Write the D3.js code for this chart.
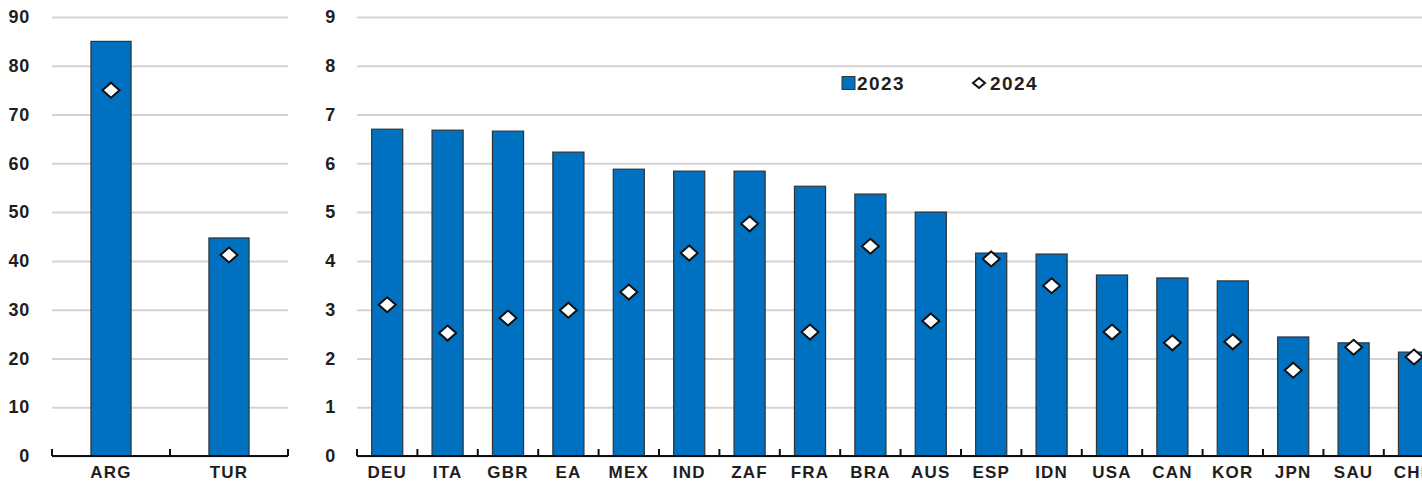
<!DOCTYPE html>
<html>
<head>
<meta charset="utf-8">
<script src="https://cdn.jsdelivr.net/npm/d3@7"></script>
<style>
  body { margin: 0; background: #fff; }
  svg { display: block; font-family: "Liberation Sans", Arial, sans-serif; }
  .tick text, .lbl { font-weight: bold; font-size: 18px; fill: #1e1e1e; letter-spacing: 0.8px; }
  .xl { font-size: 17px; letter-spacing: 1.2px; }
  .leg { font-size: 19px; letter-spacing: 1.4px; }
</style>
</head>
<body>
<svg id="chart" width="1422" height="482"></svg>
<script>
// left panel (high inflation)
let leftCats = ['ARG', 'TUR'];
let left2023 = [85.0, 44.7];
let left2024 = [75.0, 41.2];
let leftTicks = [0, 10, 20, 30, 40, 50, 60, 70, 80, 90];

// right panel
let rightCats = ['DEU', 'ITA', 'GBR', 'EA', 'MEX', 'IND', 'ZAF', 'FRA', 'BRA',
  'AUS', 'ESP', 'IDN', 'USA', 'CAN', 'KOR', 'JPN', 'SAU', 'CHN'];
let right2023 = [6.70, 6.68, 6.66, 6.23, 5.88, 5.84, 5.84, 5.53, 5.37,
  5.00, 4.16, 4.14, 3.71, 3.65, 3.59, 2.44, 2.32, 2.13];
let right2024 = [3.10, 2.52, 2.83, 2.99, 3.36, 4.16, 4.76, 2.54, 4.30,
  2.77, 4.04, 3.49, 2.54, 2.32, 2.34, 1.76, 2.23, 2.03];
let rightTicks = [0, 1, 2, 3, 4, 5, 6, 7, 8, 9];

let legendLabels = ['2023', '2024'];

let barColor = '#0070c0';
let svg = d3.select('#chart');

let diamond = 'M0,-7.5L8.5,0L0,7.5L-8.5,0Z';

/**
 * draws one panel
 */
function panel(cats, v23, v24, ticks, xRange, barFrac, labelGap) {
  let top = 17;
  let bottom = 456;
  let x = d3.scaleBand().domain(cats).range(xRange).padding(0);
  let y = d3.scaleLinear().domain([0, d3.max(ticks)]).range([bottom, top]);

  let g = svg.append('g');

  // gridlines + labels
  let ax = g.append('g')
      .attr('transform', `translate(${xRange[0]},0)`)
      .call(d3.axisLeft(y).tickValues(ticks).tickSize(-(xRange[1] - xRange[0])).tickPadding(labelGap));
  ax.select('.domain').remove();
  ax.selectAll('.tick line').attr('stroke', '#d4d4d4').attr('stroke-width', 2);
  ax.selectAll('.tick text').attr('font-family', null).attr('font-size', null);

  let bw = x.bandwidth() * barFrac;
  let off = (x.bandwidth() - bw) / 2;

  let data = cats.map((c, i) => ({cat: c, a: v23[i], b: v24[i]}));

  g.selectAll('rect.bar').data(data).enter().append('rect')
      .attr('class', 'bar')
      .attr('x', (d) => x(d.cat) + off)
      .attr('y', (d) => y(d.a))
      .attr('width', bw)
      .attr('height', (d) => bottom - y(d.a))
      .attr('fill', barColor)
      .attr('stroke', '#333')
      .attr('stroke-width', 1.2);

  // x axis line and tick marks
  g.append('line')
      .attr('x1', xRange[0]).attr('x2', xRange[1])
      .attr('y1', bottom).attr('y2', bottom)
      .attr('stroke', '#111').attr('stroke-width', 2);
  let bounds = cats.map((c) => x(c)).concat([xRange[1]]);
  g.selectAll('line.tk').data(bounds).enter().append('line')
      .attr('class', 'tk')
      .attr('x1', (d) => d).attr('x2', (d) => d)
      .attr('y1', bottom).attr('y2', bottom - 7)
      .attr('stroke', '#111').attr('stroke-width', 2);

  g.selectAll('text.xl').data(data).enter().append('text')
      .attr('class', 'lbl xl')
      .attr('x', (d) => x(d.cat) + x.bandwidth() / 2)
      .attr('y', 477.5)
      .attr('text-anchor', 'middle')
      .text((d) => d.cat);

  g.selectAll('path.dm').data(data).enter().append('path')
      .attr('class', 'dm')
      .attr('d', diamond)
      .attr('transform', (d) => `translate(${x(d.cat) + x.bandwidth() / 2},${y(d.b)})`)
      .attr('fill', '#fff')
      .attr('stroke', '#111')
      .attr('stroke-width', 2);
}

panel(leftCats, left2023, left2024, leftTicks, [52, 288], 0.34, 22);
panel(rightCats, right2023, right2024, rightTicks, [357, 357 + 18 * 60.4], 0.515, 21);

// legend
let lg = svg.append('g').attr('transform', 'translate(842,83)');
lg.append('rect').attr('x', 0).attr('y', -6.5).attr('width', 13).attr('height', 13)
    .attr('fill', barColor).attr('stroke', '#333').attr('stroke-width', 1);
lg.append('text').attr('class', 'lbl leg').attr('x', 15).attr('y', 7).text(legendLabels[0]);
lg.append('path').attr('d', 'M0,-5L6,0L0,5L-6,0Z')
    .attr('transform', 'translate(137,0)')
    .attr('fill', '#fff').attr('stroke', '#111').attr('stroke-width', 2);
lg.append('text').attr('class', 'lbl leg').attr('x', 148).attr('y', 7).text(legendLabels[1]);
</script>
</body>
</html>
